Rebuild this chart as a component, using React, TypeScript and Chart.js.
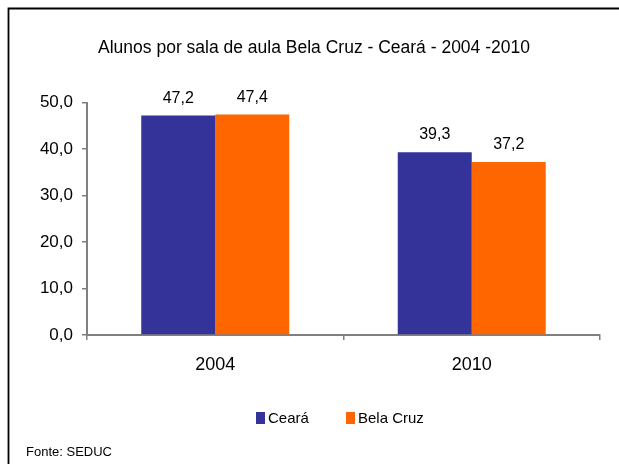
import React, { useEffect, useRef } from 'react';
import { Chart, registerables } from 'chart.js';

Chart.register(...registerables);

const categories = ['2004', '2010'];
const cearaValues = [47.2, 39.3];
const belaCruzValues = [47.4, 37.2];
const seriesNames = ['Ceará', 'Bela Cruz'];
const seriesColors = ['#333399', '#FF6600'];
const yMin = 0;
const yMax = 50;
const yStep = 10;
const titleText = 'Alunos por sala de aula Bela Cruz - Ceará - 2004 -2010';
const sourceText = 'Fonte: SEDUC';

const FONT = "'Liberation Sans', Arial, sans-serif";
const fmt = (v: number) => v.toFixed(1).replace('.', ',');

const decorPlugin = {
  id: 'decor',
  beforeDraw(chart: any) {
    const ctx = chart.ctx;
    ctx.save();
    ctx.fillStyle = '#ffffff';
    ctx.fillRect(0, 0, chart.width, chart.height);
    ctx.strokeStyle = '#000000';
    ctx.lineWidth = 1.8;
    ctx.beginPath();
    ctx.moveTo(8.5, chart.height);
    ctx.lineTo(8.5, 8.5);
    ctx.lineTo(chart.width, 8.5);
    ctx.stroke();
    ctx.restore();
  },
  afterDraw(chart: any) {
    const ctx = chart.ctx;
    ctx.save();
    ctx.fillStyle = '#000000';
    // title
    ctx.font = `17.5px ${FONT}`;
    ctx.textAlign = 'center';
    ctx.textBaseline = 'middle';
    ctx.fillText(titleText, 314, 48);
    // value labels
    ctx.font = `16px ${FONT}`;
    ctx.textBaseline = 'alphabetic';
    chart.data.datasets.forEach((ds: any, i: number) => {
      const meta = chart.getDatasetMeta(i);
      meta.data.forEach((el: any, j: number) => {
        ctx.fillText(fmt(ds.data[j]), el.x, el.y - 13);
      });
    });
    // legend
    ctx.font = `15px ${FONT}`;
    ctx.textAlign = 'left';
    ctx.textBaseline = 'middle';
    const legendX = [256, 346];
    chart.data.datasets.forEach((ds: any, i: number) => {
      const x = legendX[i];
      ctx.fillStyle = ds.backgroundColor;
      ctx.fillRect(x, 412, 9, 12);
      ctx.fillStyle = '#000000';
      ctx.fillText(ds.label, x + 12, 418.5);
    });
    // source
    ctx.font = `13px ${FONT}`;
    ctx.fillText(sourceText, 26, 452);
    ctx.restore();
  },
};

export default function App() {
  const ref = useRef<HTMLCanvasElement | null>(null);
  useEffect(() => {
    if (!ref.current) return;
    const chart = new Chart(ref.current, {
      type: 'bar',
      data: {
        labels: categories,
        datasets: [
          { label: seriesNames[0], data: cearaValues, backgroundColor: seriesColors[0], borderWidth: 0 },
          { label: seriesNames[1], data: belaCruzValues, backgroundColor: seriesColors[1], borderWidth: 0 },
        ],
      },
      options: {
        animation: false,
        responsive: false,
        devicePixelRatio: 1,
        layout: { padding: { left: 0, right: 19, top: 102.5, bottom: 89 } },
        plugins: {
          legend: { display: false },
          title: { display: false },
          tooltip: { enabled: false },
        },
        datasets: { bar: { categoryPercentage: 0.577, barPercentage: 1 } },
        scales: {
          x: {
            offset: true,
            grid: { display: true, offset: true, drawOnChartArea: false, drawTicks: true, tickLength: 5, color: '#808080', lineWidth: 1.5 },
            border: { display: true, color: '#808080', width: 2 },
            ticks: { color: '#000000', font: { family: FONT, size: 18 }, padding: 14, maxRotation: 0 },
            afterFit: (s: any) => { s.height = 40; },
          },
          y: {
            min: yMin,
            max: yMax,
            ticks: { stepSize: yStep, color: '#000000', font: { family: FONT, size: 17 }, padding: 9, callback: (v: any) => fmt(Number(v)) },
            grid: { display: true, drawOnChartArea: false, drawTicks: true, tickLength: 5, color: '#808080', lineWidth: 1.5 },
            border: { display: true, color: '#808080', width: 2 },
            afterFit: (s: any) => { s.width = 87; },
          },
        },
      },
      plugins: [decorPlugin],
    });
    return () => chart.destroy();
  }, []);
  return (
    <div style={{ position: 'fixed', left: 0, top: 0, width: 619, height: 464, background: '#fff' }}>
      <canvas ref={ref} width={619} height={464} style={{ display: 'block', width: 619, height: 464 }} />
    </div>
  );
}
